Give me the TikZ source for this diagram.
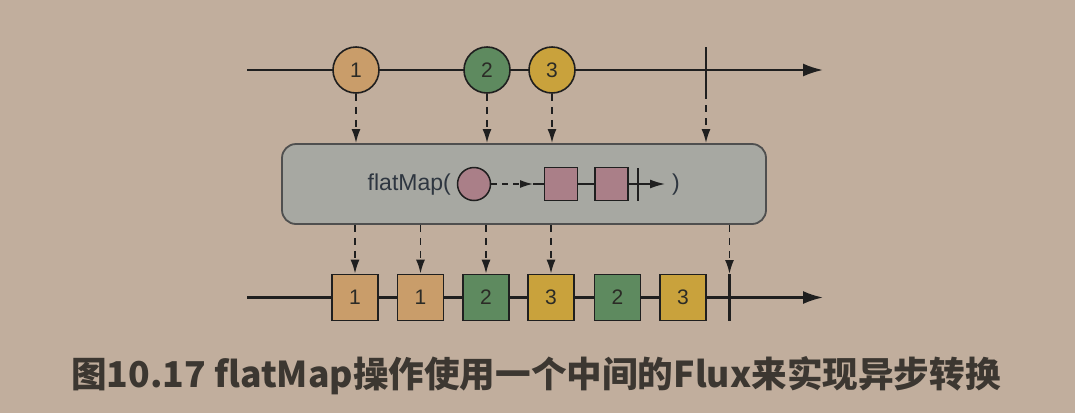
\documentclass[tikz,border=0pt]{standalone}
\usepackage{fontspec}
\setmainfont{Liberation Sans}
\newfontfamily\cjk{Noto Sans CJK SC}
\usepackage{tikz}
\usetikzlibrary{arrows.meta, calc, positioning}
\definecolor{sfondo}{HTML}{C1AE9D}
\definecolor{ocra}{HTML}{C99D6A}
\definecolor{verde}{HTML}{5E8A5F}
\definecolor{oro}{HTML}{C9A23C}
\definecolor{rosa}{HTML}{AA7F88}
\definecolor{grigio}{HTML}{A7A8A2}
\definecolor{bordo}{HTML}{4F4F4F}
\definecolor{nero}{HTML}{1F1F1F}
\definecolor{cifra}{HTML}{2B2B26}
\definecolor{testo}{HTML}{2E3640}
\definecolor{didascalia}{HTML}{3C3731}

\begin{document}
\begin{tikzpicture}[x = 1pt, y = -1pt,
    asse/.style = {line width = 2.2pt, draw = nero, -{Latex[length = 20pt, width = 13pt]}},
    tacca/.style = {line width = 2.6pt, draw = nero},
    pallino/.style = {circle, draw = nero, line width = 1.6pt, minimum size = 46pt, inner sep = 0pt, text = cifra, font = \fontsize{21}{21}\selectfont},
    quadrato/.style = {rectangle, draw = nero, line width = 1.6pt, minimum size = 46pt, inner sep = 0pt, text = cifra, font = \fontsize{21}{21}\selectfont},
    freccina/.style = {line width = 1.9pt, draw = nero, dash pattern = on 7pt off 6pt, -{Latex[length = 14pt, width = 9pt]}},
    interno/.style = {line width = 1.5pt, draw = nero},
    riquadro/.style = {rectangle, rounded corners = 14pt, draw = bordo, line width = 1.8pt, fill = grigio, minimum width = 484pt, minimum height = 80pt}]
    % Sfondo
    \fill[sfondo] (0,0) rectangle (1075,413);
    \useasboundingbox (0,0) rectangle (1075,413);
    % Parametri
    \pgfmathsetmacro{\ysu}{70}
    \pgfmathsetmacro{\ygiu}{297.5}
    % Linea superiore
    \coordinate (inizioSu) at (247,\ysu);
    \coordinate (fineSu) at (823,\ysu);
    \draw[asse] (inizioSu) -- (fineSu);
    \node[pallino, fill = ocra] (su1) at (356,\ysu){1};
    \node[pallino, fill = verde] (su2) at (487,\ysu){2};
    \node[pallino, fill = oro] (su3) at (552,\ysu){3};
    \coordinate (taccaSuA) at (706,47);
    \coordinate (taccaSuB) at (706,92);
    \draw[tacca] (taccaSuA) -- (taccaSuB);
    % Riquadro flatMap
    \node[riquadro] (box) at (524,184){};
    \draw[freccina] (su1.south) -- (su1.south |- box.north);
    \draw[freccina] (su2.south) -- (su2.south |- box.north);
    \draw[freccina] (su3.south) -- (su3.south |- box.north);
    \draw[freccina] (taccaSuB) -- (taccaSuB |- box.north);
    % Contenuto del riquadro
    \node[anchor = east, inner sep = 0pt, text = testo, font = \fontsize{23}{23}\selectfont] (fm) at (451,185){flatMap(};
    \node[circle, draw = nero, line width = 1.5pt, fill = rosa, minimum size = 33pt, inner sep = 0pt] (cerchio) at (474,184){};
    \node[rectangle, draw = nero, line width = 1.5pt, fill = rosa, minimum size = 33pt, inner sep = 0pt] (q1) at (561,184){};
    \node[rectangle, draw = nero, line width = 1.5pt, fill = rosa, minimum size = 33pt, inner sep = 0pt] (q2) at (611.5,184){};
    \coordinate (punta) at (533,184);
    \draw[interno, dash pattern = on 6pt off 5pt, -{Latex[length = 13pt, width = 8pt]}] (cerchio.east) -- (punta);
    \draw[interno] (punta) -- (q1.west);
    \draw[interno] (q1.east) -- (q2.west);
    \coordinate (taccaA) at (638,168);
    \coordinate (taccaB) at (638,201);
    \draw[interno, line width = 2.2pt] (taccaA) -- (taccaB);
    \coordinate (puntaFin) at (665,184);
    \draw[interno, -{Latex[length = 15pt, width = 9pt]}] (q2.east) -- (puntaFin);
    \node[inner sep = 0pt, text = testo, font = \fontsize{23}{23}\selectfont] (chiusa) at (676,185){)};
    % Linea inferiore
    \coordinate (inizioGiu) at (247,\ygiu);
    \coordinate (fineGiu) at (823,\ygiu);
    \draw[asse] (inizioGiu) -- (fineGiu);
    \node[quadrato, fill = ocra] (giu1) at (355,\ygiu){1};
    \node[quadrato, fill = ocra] (giu2) at (420.5,\ygiu){1};
    \node[quadrato, fill = verde] (giu3) at (486,\ygiu){2};
    \node[quadrato, fill = oro] (giu4) at (551,\ygiu){3};
    \node[quadrato, fill = verde] (giu5) at (617.5,\ygiu){2};
    \node[quadrato, fill = oro] (giu6) at (683,\ygiu){3};
    \coordinate (taccaGiuA) at (729.5,274);
    \coordinate (taccaGiuB) at (729.5,321);
    \draw[tacca] (taccaGiuA) -- (taccaGiuB);
    \foreach \q in {giu1, giu2, giu3, giu4}
        \draw[freccina] (box.south -| \q.north) -- (\q.north);
    \draw[freccina] (box.south -| taccaGiuA) -- (taccaGiuA);
    % Didascalia
    \node[text = didascalia, font = \cjk\bfseries\fontsize{35.6}{36}\selectfont] (titolo) at (536,376){图10.17 flatMap操作使用一个中间的Flux来实现异步转换};
\end{tikzpicture}
\end{document}
